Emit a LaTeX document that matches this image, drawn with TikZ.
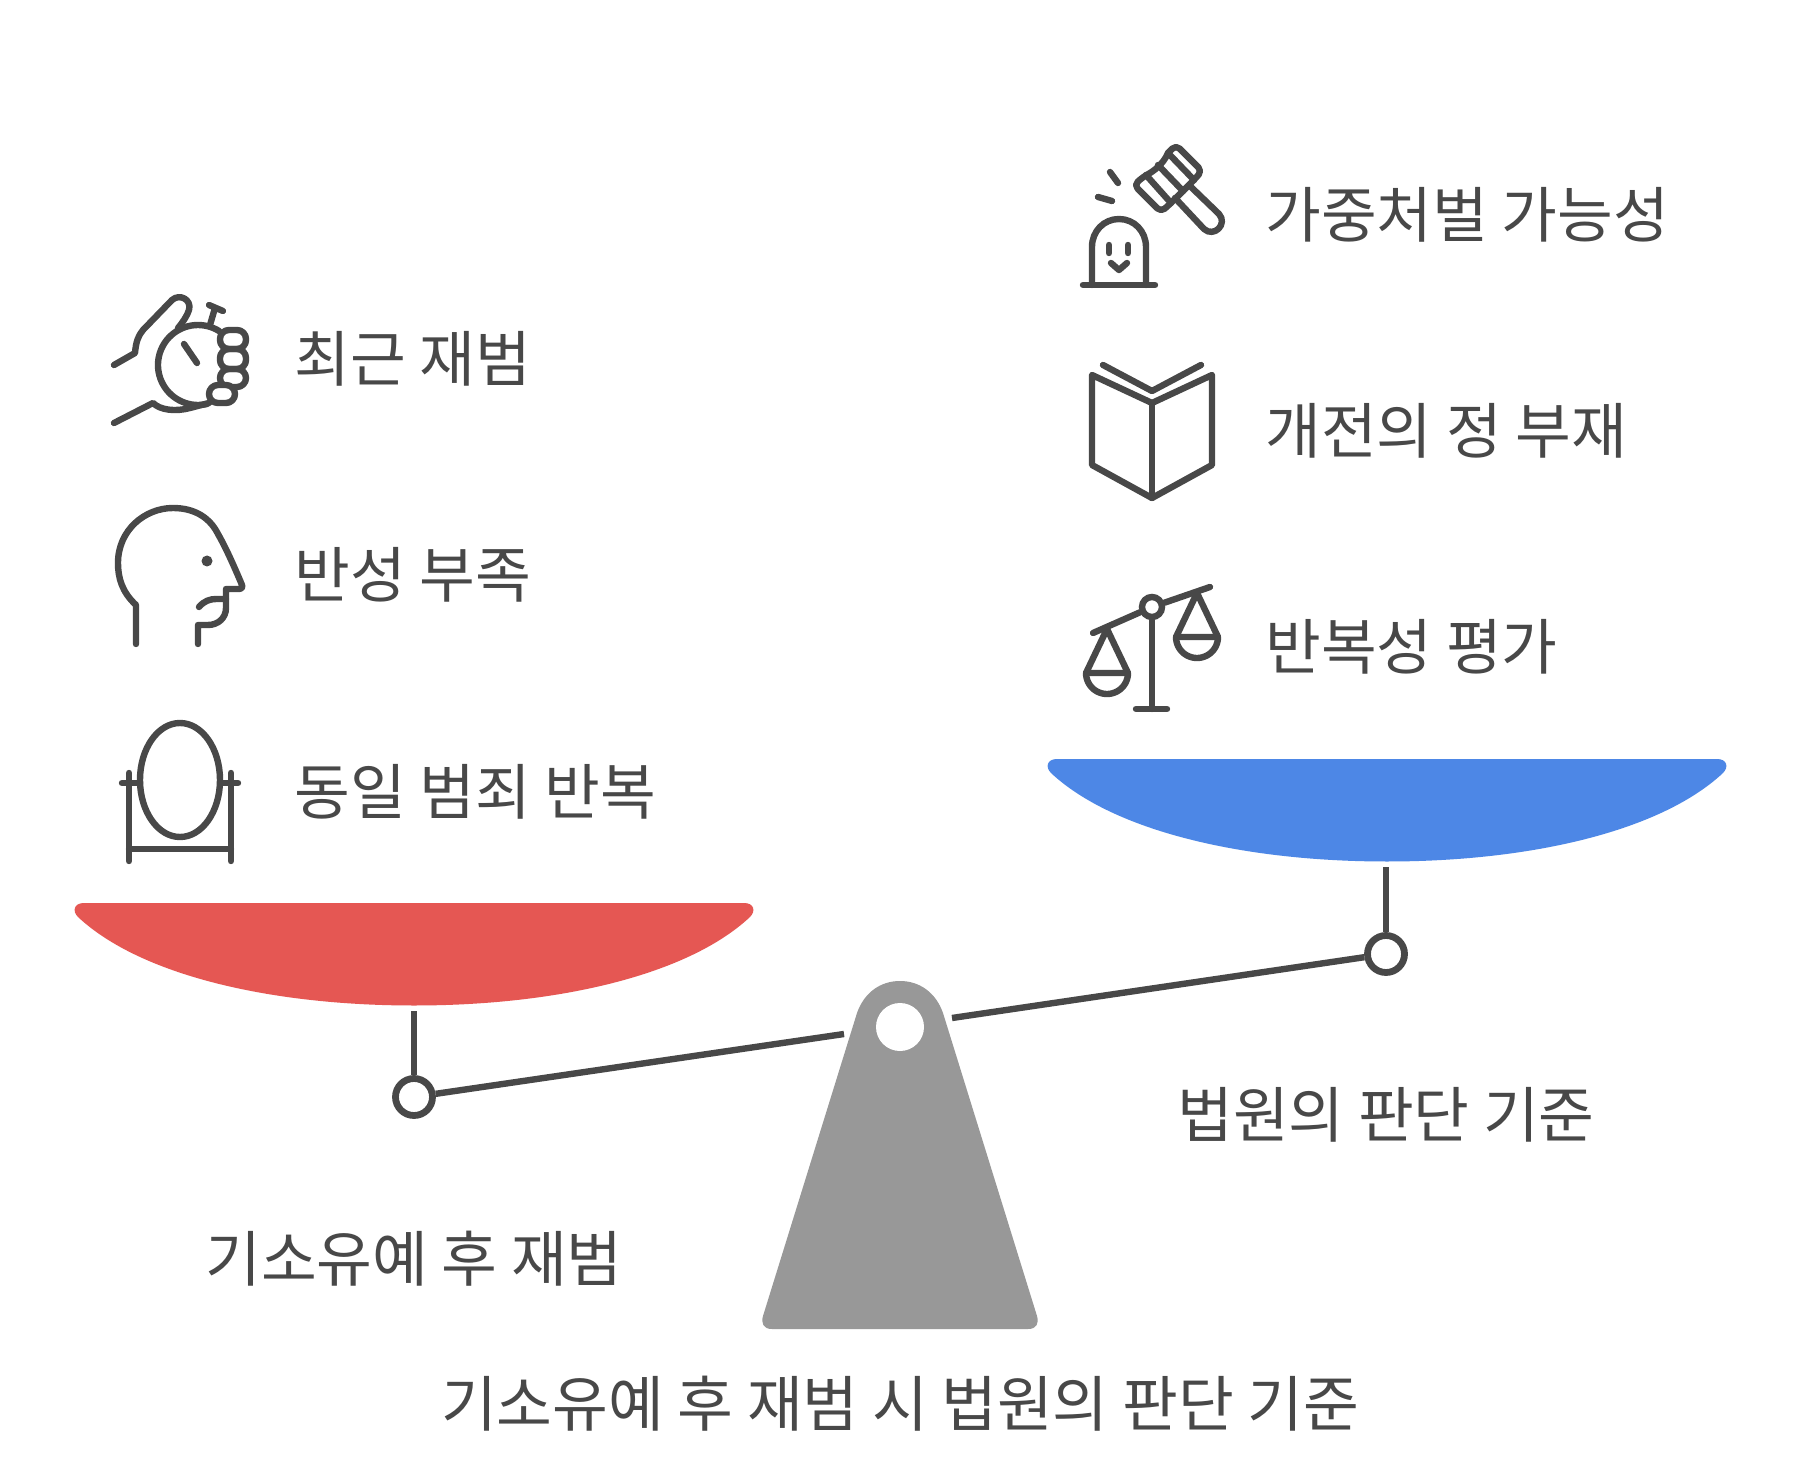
\documentclass[tikz,border=0pt]{standalone}
\usepackage{fontspec}
\setmainfont{Noto Sans CJK KR}
\definecolor{ink}{HTML}{484848}
\definecolor{panred}{HTML}{E55753}
\definecolor{panblue}{HTML}{4D87E6}
\definecolor{stand}{HTML}{989898}
\begin{document}
\begin{tikzpicture}[x=0.5pt,y=-0.5pt,
  icon/.style={draw=ink,line width=3.2pt,line cap=round,line join=round},
  label/.style={text=ink,font=\fontsize{30.3}{36}\selectfont,inner sep=0pt},
  itemleft/.style={label,anchor=west},
  pivot/.style={circle,draw=ink,line width=3.4pt,fill=white,minimum size=18.5pt,inner sep=0pt},
  beam/.style={draw=ink,line width=3.2pt}]
\useasboundingbox (0,0) rectangle (1800,1476);
\fill[white] (0,0) rectangle (1800,1476);
% pans
\fill[panred] (84,903) -- (744,903) .. controls (754,903) and (756,911) .. (750,917) .. controls (688,975) and (558,1005.5) .. (414,1005.5) .. controls (270,1005.5) and (140,975) .. (78,917) .. controls (72,911) and (74,903) .. (84,903) -- cycle;
\fill[panblue] (1057,759) -- (1717,759) .. controls (1727,759) and (1729,767) .. (1723,773) .. controls (1661,831) and (1531,861.5) .. (1387,861.5) .. controls (1243,861.5) and (1113,831) .. (1051,773) .. controls (1045,767) and (1047,759) .. (1057,759) -- cycle;
% stand
\fill[stand] (772,1329) .. controls (763,1329) and (761,1323) .. (763,1316) -- (857,1013) .. controls (864,993) and (880,981) .. (900,981) .. controls (920,981) and (936,993) .. (943,1013) -- (1037,1316) .. controls (1039,1323) and (1037,1329) .. (1028,1329) -- cycle;
\node[circle,fill=white,minimum size=24pt,inner sep=0pt] (hole) at (900,1027) {};
% pivots and beam
\node[pivot] (lp) at (414,1097) {};
\node[pivot] (rp) at (1386,954) {};
\coordinate (lbeam) at (844,1034);
\coordinate (rbeam) at (952,1018);
\coordinate (lstem) at (414,1011);
\coordinate (rstem) at (1386,867);
\draw[beam] (lp) -- (lbeam);
\draw[beam] (rp) -- (rbeam);
\draw[beam] (lp) -- (lstem);
\draw[beam] (rp) -- (rstem);
% labels
\node[itemleft] (t1) at (294,359) {최근 재범};
\node[itemleft] (t2) at (294,575) {반성 부족};
\node[itemleft] (t3) at (294,792) {동일 범죄 반복};
\node[itemleft] (t4) at (1265,215) {가중처벌 가능성};
\node[itemleft] (t5) at (1265,431) {개전의 정 부재};
\node[itemleft] (t6) at (1265,647) {반복성 평가};
\node[label] (t7) at (1386,1115) {법원의 판단 기준};
\node[label] (t8) at (414,1259) {기소유예 후 재범};
\node[label] (t9) at (900,1404) {기소유예 후 재범 시 법원의 판단 기준};
% icon: hand with stopwatch
\draw[icon] plot[domain=58:283,samples=50] ({198+40*cos(\x)},{365-40*sin(\x)});
\draw[icon] (114,365) -- (135,353) .. controls (136,342) and (138,336) .. (143,330) -- (172,300) .. controls (180,293) and (192,300) .. (189,310) .. controls (187,316) and (183,322) .. (178,328);
\draw[icon] (210,325) -- (215,308) (209,305) -- (223,311);
\draw[icon] (184,344) -- (197,363);
\draw[icon,rounded corners=4.5pt] (220,330) rectangle (246,349);
\draw[icon,rounded corners=4.5pt] (220,349) rectangle (246,369);
\draw[icon,rounded corners=4.5pt] (220,369) rectangle (246,387);
\draw[icon,rounded corners=4.5pt,fill=white] (209,385) rectangle (235,403);
\draw[icon] (114,423) -- (153,403) .. controls (160,410) and (175,412) .. (190,408) -- (209,403);
% icon: head
\draw[icon] (136,644) -- (136,605) .. controls (122,592) and (118,578) .. (118,563) .. controls (118,530) and (145,508) .. (173,508) .. controls (195,508) and (210,518) .. (218,534) .. controls (226,548) and (234,566) .. (242,585) .. controls (243,588) and (241,589) .. (238,589) -- (226,589) -- (226,608) .. controls (226,618) and (218,625) .. (208,625) -- (198,625) -- (198,644);
\draw[icon] (199,607) .. controls (204,601) and (210,599) .. (216,599) -- (226,599);
\fill[ink] (207,561) circle[radius=5.5];
% icon: mirror
\draw[icon] (180,780) ellipse[x radius=40,y radius=57];
\draw[icon] (129,773) -- (129,861) (231,773) -- (231,861) (129,849) -- (231,849);
\draw[icon] (122,783) -- (140,783) (221,783) -- (238,783);
% icon: gavel
\draw[icon] (1083,285) -- (1155,285);
\draw[icon] (1092,285) -- (1092,247) .. controls (1092,231) and (1104,219) .. (1119,219) .. controls (1134,219) and (1146,231) .. (1146,247) -- (1146,285);
\draw[icon] (1109,245) -- (1109,253) (1128,245) -- (1128,253);
\draw[icon] (1111,263) -- (1119,270) -- (1127,263);
\draw[icon] (1110,172) -- (1118,183) (1098,197) -- (1112,201);
\draw[icon,rounded corners=2.5pt] (1168,153) -- (1176,145) -- (1202,171) -- (1192,182) -- (1171,203) -- (1161,212) -- (1134,185) -- (1143,177) .. controls (1152,172) and (1163,165) .. (1168,153);
\draw[icon] (1168,153) -- (1194,180) (1158,165) -- (1183,191) (1146,175) -- (1171,203);
\draw[icon] (1175,198) -- (1204,229) .. controls (1214,238) and (1228,224) .. (1219,214) -- (1190,186);
% icon: book
\draw[icon] (1103,365) -- (1152,391) -- (1201,365);
\draw[icon] (1152,403) -- (1092,375) -- (1092,465) -- (1152,498) -- (1212,465) -- (1212,375) -- cycle;
\draw[icon] (1152,403) -- (1152,498);
% icon: scales
\node[circle,draw=ink,line width=3.2pt,minimum size=10pt,inner sep=0pt] (sc) at (1152,607) {};
\coordinate (scl) at (1093,633);
\coordinate (scr) at (1210,587);
\coordinate (scb) at (1152,709);
\draw[icon] (sc) -- (scl);
\draw[icon] (sc) -- (scr);
\draw[icon] (sc) -- (scb);
\draw[icon] (1136,709) -- (1167,709);
\draw[icon] (1086,673) -- (1107,629) -- (1128,673) -- cycle;
\draw[icon] plot[domain=0:180,samples=30] ({1107+21*cos(\x)},{673+21*sin(\x)});
\draw[icon] (1176,637) -- (1197,593) -- (1218,637) -- cycle;
\draw[icon] plot[domain=0:180,samples=30] ({1197+21*cos(\x)},{637+21*sin(\x)});
\end{tikzpicture}
\end{document}
